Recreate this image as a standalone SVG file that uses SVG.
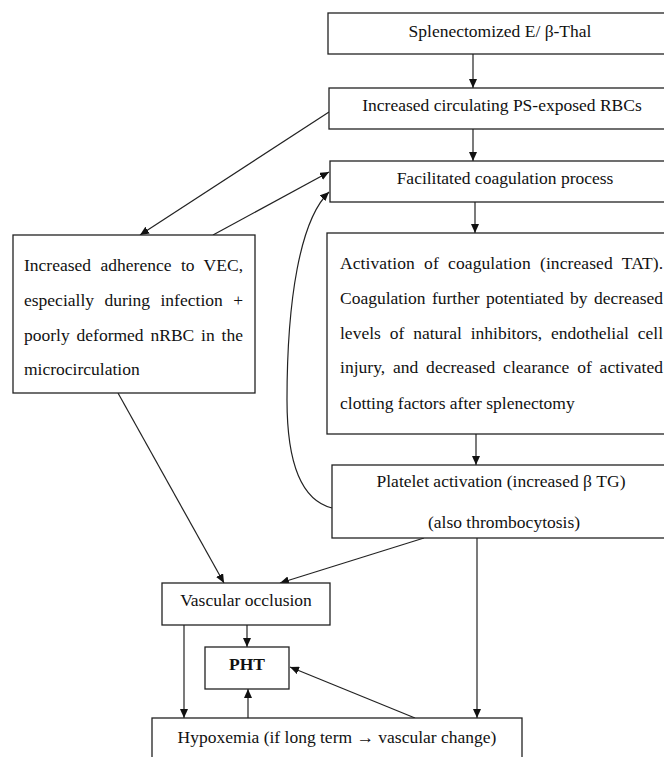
<svg xmlns="http://www.w3.org/2000/svg" width="664" height="757" viewBox="0 0 664 757">
<style>
.box{fill:#fff;stroke:#222;stroke-width:1.3}
.t{font-family:"Liberation Serif","Times New Roman",serif;font-size:17.5px;fill:#111}
.c{text-anchor:middle}
.ln{fill:none;stroke:#222;stroke-width:1.2;marker-end:url(#ah)}
</style>
<defs>
<marker id="ah" markerUnits="userSpaceOnUse" markerWidth="10" markerHeight="8" refX="9" refY="4" orient="auto">
<path d="M0,0 L9,4 L0,8 Z" fill="#111"/>
</marker>
</defs>
<rect width="664" height="757" fill="#fff"/>
<g id="connectors">
<line class="ln" x1="473" y1="54" x2="473" y2="88"/>
<line class="ln" x1="473" y1="129" x2="473" y2="161"/>
<line class="ln" x1="475" y1="202" x2="475" y2="233"/>
<line class="ln" x1="476" y1="434" x2="476" y2="465"/>
<line class="ln" x1="329" y1="112" x2="140" y2="235"/>
<line class="ln" x1="213" y1="235" x2="329" y2="172"/>
<path class="ln" d="M332,508 C300,500 287,460 287,400 C287,300 300,220 329,192"/>
<line class="ln" x1="118" y1="393" x2="224" y2="583"/>
<line class="ln" x1="424" y1="538" x2="280" y2="583"/>
<line class="ln" x1="477" y1="538" x2="477" y2="718"/>
<line class="ln" x1="184" y1="625" x2="184" y2="718"/>
<line class="ln" x1="247" y1="625" x2="247" y2="647"/>
<line class="ln" x1="248" y1="718" x2="248" y2="689"/>
<line class="ln" x1="415" y1="718" x2="290" y2="667"/>
</g>
<g id="splenectomized">
<rect class="box" x="328" y="13" width="345" height="41"/>
<text class="t c" x="500" y="37">Splenectomized E/ β-Thal</text>
</g>
<g id="ps-rbcs">
<rect class="box" x="329" y="88" width="345" height="41"/>
<text class="t c" x="502" y="111">Increased circulating PS-exposed RBCs</text>
</g>
<g id="facilitated">
<rect class="box" x="330" y="161" width="345" height="41"/>
<text class="t c" x="505" y="184">Facilitated coagulation process</text>
</g>
<g id="adherence">
<rect class="box" x="13" y="235" width="242" height="158"/>
<text class="t" x="24" y="271" word-spacing="5" textLength="219" lengthAdjust="spacing">Increased adherence to VEC,</text>
<text class="t" x="24" y="306" word-spacing="6" textLength="219" lengthAdjust="spacing">especially during infection +</text>
<text class="t" x="24" y="341" word-spacing="2.5" textLength="219" lengthAdjust="spacing">poorly deformed nRBC in the</text>
<text class="t" x="24" y="375">microcirculation</text>
</g>
<g id="activation">
<rect class="box" x="327" y="233" width="345" height="201"/>
<text class="t" x="340" y="269" word-spacing="4.8" textLength="323" lengthAdjust="spacing">Activation of coagulation (increased TAT).</text>
<text class="t" x="340" y="304" word-spacing="2" textLength="323" lengthAdjust="spacing">Coagulation further potentiated by decreased</text>
<text class="t" x="340" y="339" word-spacing="4.5" textLength="323" lengthAdjust="spacing">levels of natural inhibitors, endothelial cell</text>
<text class="t" x="340" y="373" word-spacing="3.4" textLength="323" lengthAdjust="spacing">injury, and decreased clearance of activated</text>
<text class="t" x="340" y="409">clotting factors after splenectomy</text>
</g>
<g id="platelet">
<rect class="box" x="332" y="465" width="345" height="73"/>
<text class="t c" x="501" y="487">Platelet activation (increased β TG)</text>
<text class="t c" x="504" y="528">(also thrombocytosis)</text>
</g>
<g id="vascular">
<rect class="box" x="162" y="583" width="168" height="42"/>
<text class="t c" x="246" y="606">Vascular occlusion</text>
</g>
<g id="pht">
<rect class="box" x="205" y="647" width="84" height="42"/>
<text class="t c" x="247" y="670" font-weight="bold">PHT</text>
</g>
<g id="hypoxemia">
<rect class="box" x="152" y="718" width="370" height="50"/>
<text class="t c" x="337" y="743">Hypoxemia (if long term → vascular change)</text>
</g>
</svg>
